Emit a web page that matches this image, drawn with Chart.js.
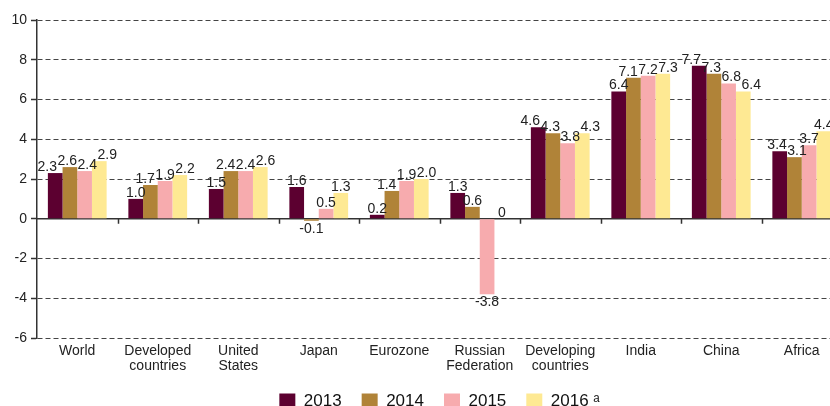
<!DOCTYPE html>
<html>
<head>
<meta charset="utf-8">
<script src="https://cdn.jsdelivr.net/npm/chart.js@4/dist/chart.umd.min.js"></script>
<style>
html,body{margin:0;padding:0;overflow:hidden;background:#fff;}
#wrap{position:absolute;left:0;top:0;width:845px;height:420px;}
</style>
</head>
<body>
<div id="wrap"><canvas id="c"></canvas></div>
<script>
const categories = ['World', ['Developed','countries'], ['United','States'], 'Japan', 'Eurozone', ['Russian','Federation'], ['Developing','countries'], 'India', 'China', 'Africa'];
const seriesNames = ['2013', '2014', '2015', '2016 ᵃ'];
const v2013 = [2.3, 1.0, 1.5, 1.6, 0.2, 1.3, 4.6, 6.4, 7.7, 3.4];
const v2014 = [2.6, 1.7, 2.4, -0.1, 1.4, 0.6, 4.3, 7.1, 7.3, 3.1];
const v2015 = [2.4, 1.9, 2.4, 0.5, 1.9, -3.8, 3.8, 7.2, 6.8, 3.7];
const v2016 = [2.9, 2.2, 2.6, 1.3, 2.0, 0, 4.3, 7.3, 6.4, 4.4];
const yTicks = [10, 8, 6, 4, 2, 0, -2, -4, -6];
const colors = ['#5C0030', '#B08338', '#F7ABAE', '#FEE993'];

const FONT = '"Liberation Sans", Arial, sans-serif';

const labelPlugin = {
  id: 'valueLabels',
  afterDatasetsDraw(chart) {
    const ctx = chart.ctx;
    ctx.save();
    ctx.font = '14px ' + FONT;
    ctx.fillStyle = '#222';
    ctx.textAlign = 'center';
    const metas = chart.data.datasets.map((ds, di) => chart.getDatasetMeta(di));
    for (let i = 0; i < categories.length; i++) {
      const items = chart.data.datasets.map((ds, di) => {
        const el = metas[di].data[i];
        const v = ds.data[i];
        const txt = v === 0 ? '0' : v.toFixed(1);
        const w = ctx.measureText(txt).width;
        const pos = v >= 0;
        const bot = pos ? el.y - 1 : el.y + 12;
        return { txt, x: el.x, w, pos, bot, top: bot - 10 };
      });
      for (let it = 0; it < 12; it++) {
        for (let k = 1; k < items.length; k++) {
          const a = items[k - 1], b = items[k];
          if (a.top < b.bot && b.top < a.bot) {
            const ov = (a.x + a.w / 2 + 0.5) - (b.x - b.w / 2);
            if (ov > 0) { a.x -= ov / 2; b.x += ov / 2; }
          }
        }
      }
      items.forEach(o => {
        if (o.pos) {
          ctx.textBaseline = 'bottom';
          ctx.fillText(o.txt, o.x, o.bot + 2);
        } else {
          ctx.textBaseline = 'top';
          ctx.fillText(o.txt, o.x, o.bot - 11);
        }
      });
    }
    ctx.restore();
  }
};

const zeroLinePlugin = {
  id: 'zeroLine',
  beforeDatasetsDraw(chart) {
    const ctx = chart.ctx;
    const y = chart.scales.y.getPixelForValue(0);
    const xs = chart.scales.x;
    const area = chart.chartArea;
    ctx.save();
    ctx.strokeStyle = '#333';
    ctx.lineWidth = 1.5;
    ctx.beginPath();
    ctx.moveTo(area.left, y);
    ctx.lineTo(area.right, y);
    const n = categories.length;
    for (let i = 1; i < n; i++) {
      const bx = (xs.getPixelForValue(i - 1) + xs.getPixelForValue(i)) / 2;
      ctx.moveTo(Math.round(bx) + 0.5, y);
      ctx.lineTo(Math.round(bx) + 0.5, y + 5);
    }
    ctx.stroke();
    ctx.restore();
  }
};

new Chart(document.getElementById('c'), {
  type: 'bar',
  data: {
    labels: categories,
    datasets: [v2013, v2014, v2015, v2016].map((d, i) => ({
      label: seriesNames[i],
      data: d,
      backgroundColor: colors[i],
      borderWidth: 0,
      categoryPercentage: 0.73,
      barPercentage: 1.0
    }))
  },
  options: {
    responsive: true,
    maintainAspectRatio: false,
    animation: false,
    layout: { padding: { left: 0, right: 3, top: 20, bottom: 0 } },
    plugins: {
      tooltip: { enabled: false },
      legend: {
        position: 'bottom',
        fullSize: false,
        labels: {
          boxWidth: 16,
          boxHeight: 16,
          padding: 20,
          color: '#111',
          font: { family: FONT, size: 17 }
        }
      }
    },
    scales: {
      x: {
        afterFit(s) { s.height -= 7; },
        grid: { display: false, drawTicks: false },
        border: { display: false },
        ticks: {
          color: '#222',
          padding: 6,
          maxRotation: 0,
          autoSkip: false,
          font: { family: FONT, size: 14, lineHeight: 1.07 }
        }
      },
      y: {
        min: -6,
        max: 10,
        afterFit(s) { s.width = 37; },
        afterBuildTicks(s) { s.ticks = yTicks.map(v => ({ value: v })); },
        grid: {
          color: '#444',
          lineWidth: 1,
          drawTicks: true,
          tickLength: 6,
          tickColor: '#333',
          tickWidth: 1.5
        },
        border: { display: true, color: '#333', width: 1.5, dash: [5, 3] },
        ticks: {
          color: '#222',
          padding: 4,
          font: { family: FONT, size: 14 }
        }
      }
    }
  },
  plugins: [zeroLinePlugin, labelPlugin]
});
</script>
</body>
</html>
